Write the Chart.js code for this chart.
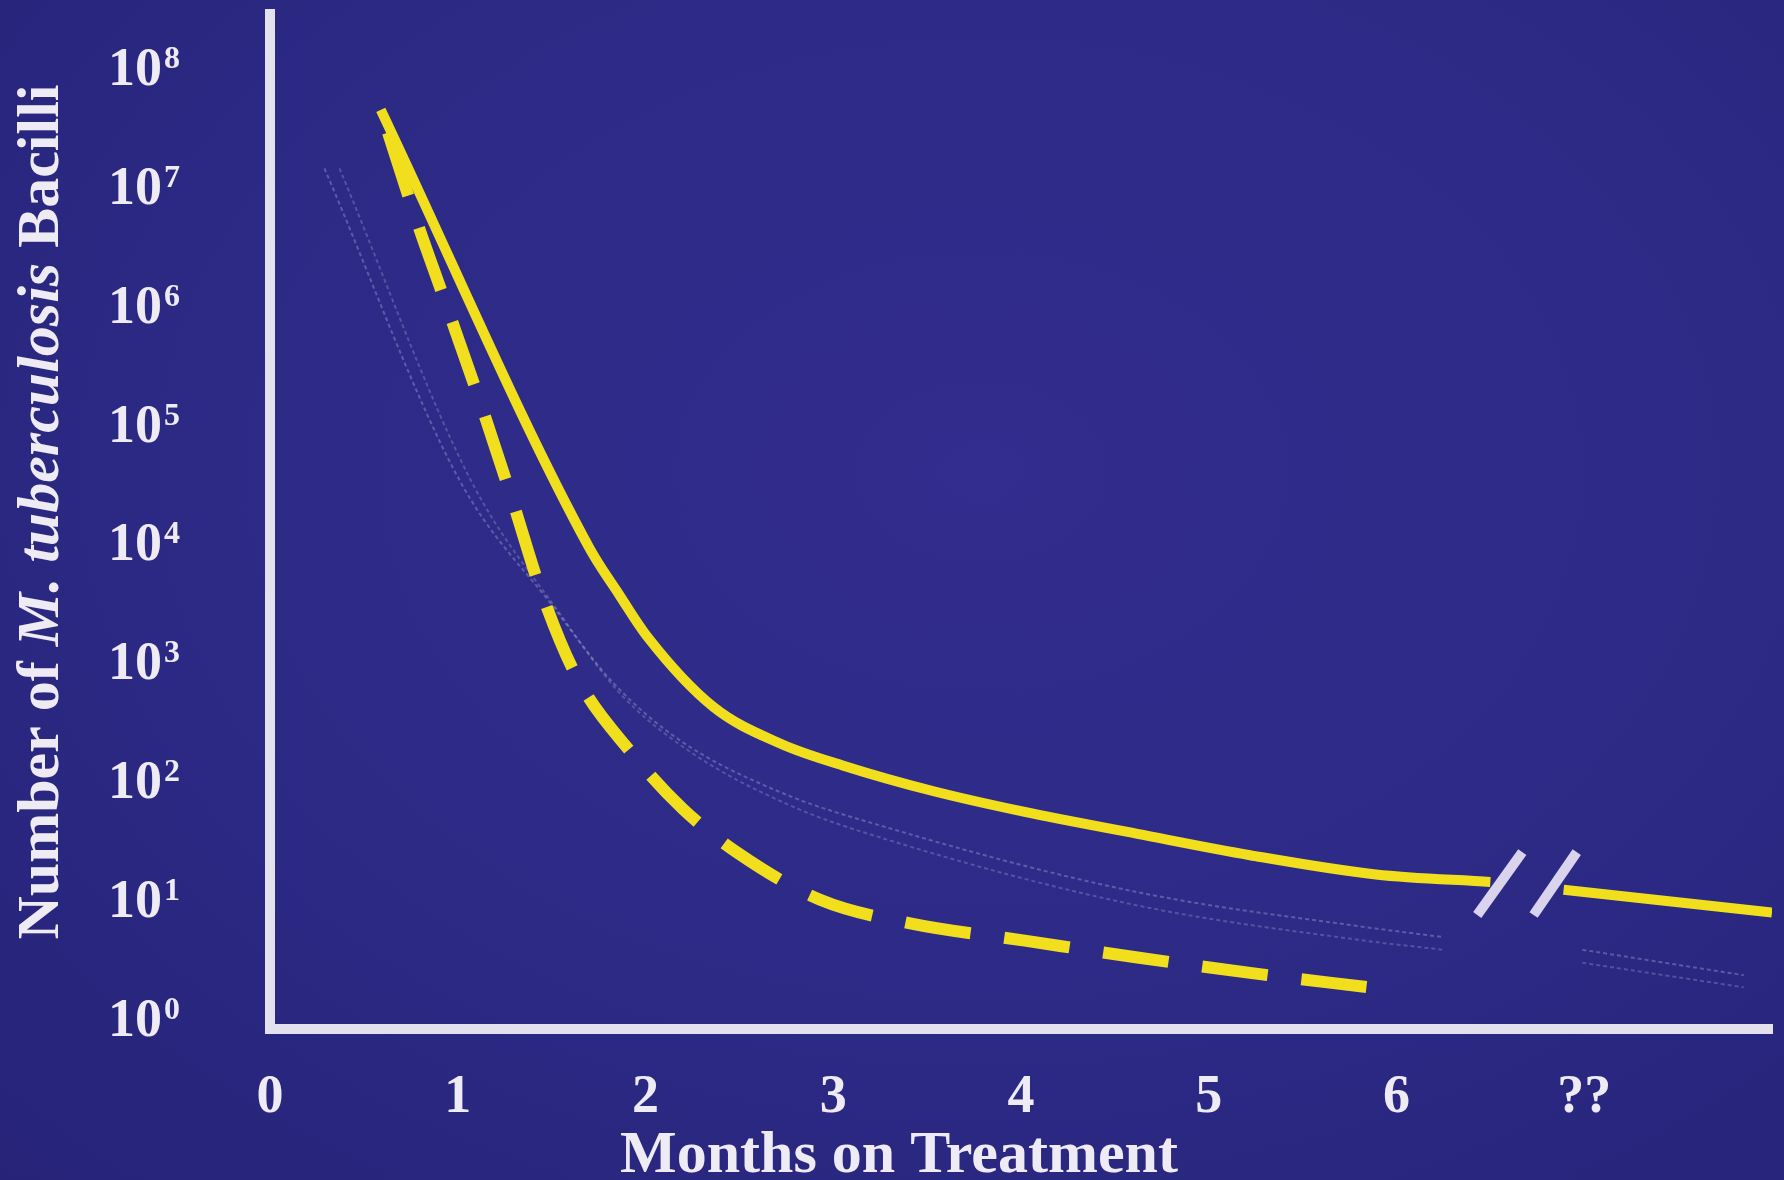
<!DOCTYPE html>
<html>
<head>
<meta charset="utf-8">
<title>M. tuberculosis bacilli on treatment</title>
<script src="https://cdn.jsdelivr.net/npm/chart.js@4.4.1/dist/chart.umd.min.js"></script>
<style>
  html, body { margin: 0; padding: 0; }
  body {
    width: 1784px; height: 1180px; overflow: hidden;
    background: radial-gradient(ellipse at 55% 40%, #322d8e 0%, #2d2a86 55%, #262379 100%);
  }
  #wrap { position: relative; width: 1784px; height: 1180px; }
</style>
</head>
<body>
<div id="wrap"><canvas id="grafico"></canvas></div>
<script>
// 1. DADOS
const monthTicks = [0, 1, 2, 3, 4, 5, 6, 7];
const monthTickLabels = ['0', '1', '2', '3', '4', '5', '6', '??'];
const bacilliTicks = [1, 10, 100, 1e3, 1e4, 1e5, 1e6, 1e7, 1e8];
const bacilliTickBase = '10';
const bacilliTickExponents = ['0', '1', '2', '3', '4', '5', '6', '7', '8'];

// curva contínua (com quebra no eixo entre 6 e ??)
const solidMonths  = [0.59, 1.70, 1.86, 2.01, 2.36, 2.72, 3.05, 3.53, 4.02, 4.62, 5.22, 5.89, 6.50, 6.70, 6.89, 8.00];
const solidBacilli = [4.2e7, 8.7e3, 3.5e3, 1.55e3, 400, 195, 128, 78, 52, 34, 22.5, 15.5, 13.4, null, 11.5, 7.4];

// curva tracejada
const dashedMonths  = [0.59, 0.77, 0.94, 1.12, 1.29, 1.45, 1.64, 1.93, 2.20, 2.50, 2.93, 3.41, 4.02, 4.62, 5.22, 5.84];
const dashedBacilli = [4.2e7, 5.5e6, 9.5e5, 1.45e5, 2.2e4, 3.5e3, 680, 160, 55, 23, 9.5, 6.0, 4.3, 3.1, 2.3, 1.75];

// linhas fantasma (quase apagadas no slide)
const ghostAMonths  = [0.29, 1.01, 1.51, 1.83, 2.18, 2.72, 3.25, 4.62, 5.83, 6.25, 6.60, 6.99, 7.85];
const ghostABacilli = [1.35e7, 3.2e4, 2.75e3, 630, 210, 76, 40, 11, 5.6, 4.6, null, 3.6, 2.2];
const ghostBMonths  = [0.37, 1.07, 1.55, 1.86, 2.24, 2.77, 3.30, 4.62, 5.83, 6.25, 6.60, 6.99, 7.85];
const ghostBBacilli = [1.35e7, 3.2e4, 2.35e3, 525, 166, 59, 30, 8.5, 4.3, 3.6, null, 2.8, 1.74];

// marcas de quebra "//"
const breakOneMonths = [6.43, 6.67];
const breakTwoMonths = [6.73, 6.96];
const breakBacilli   = [7.06, 23.9];

const xTitle = 'Months on Treatment';
const yTitleParts = [
  { text: 'Number of ', italic: false },
  { text: 'M. tuberculosis', italic: true },
  { text: ' Bacilli', italic: false }
];

// 2. ESTILO
const fonte = "'Liberation Serif', 'Times New Roman', serif";
const corTexto = '#efebf4';
const corEixo = '#e4e1ee';
const amarelo = '#f1df1d';

function pontos(xs, ys) {
  return xs.map((x, i) => ({ x: x, y: ys[i] }));
}

// títulos dos eixos (o do eixo Y tem parte em itálico) e expoentes dos ticks
const titulosEixos = {
  id: 'titulosEixos',
  afterDraw(chart) {
    const ctx = chart.ctx;
    const area = chart.chartArea;
    const escalaY = chart.scales.y;
    ctx.save();
    ctx.fillStyle = corTexto;
    ctx.textBaseline = 'alphabetic';

    // expoentes (sobrescritos) ao lado de "10"
    ctx.font = 'bold 32px ' + fonte;
    ctx.textAlign = 'left';
    bacilliTicks.forEach((v, i) => {
      const py = escalaY.getPixelForValue(v);
      ctx.fillText(bacilliTickExponents[i], area.left - 106, py + 3);
    });

    ctx.font = 'bold 60px ' + fonte;
    ctx.textAlign = 'center';
    ctx.fillText(xTitle, area.left + 629, area.bottom + 143);

    ctx.translate(58, 512);
    ctx.rotate(-Math.PI / 2);
    ctx.textAlign = 'left';
    let total = 0;
    yTitleParts.forEach(p => {
      ctx.font = (p.italic ? 'italic ' : '') + 'bold 60px ' + fonte;
      p.w = ctx.measureText(p.text).width;
      total += p.w;
    });
    let x = -total / 2;
    yTitleParts.forEach(p => {
      ctx.font = (p.italic ? 'italic ' : '') + 'bold 60px ' + fonte;
      ctx.fillText(p.text, x, 0);
      x += p.w;
    });
    ctx.restore();
  }
};

// 3. GRÁFICO
const ctxGrafico = document.getElementById('grafico').getContext('2d');
const grafico = new Chart(ctxGrafico, {
  type: 'line',
  data: {
    datasets: [
      {
        data: pontos(ghostAMonths, ghostABacilli),
        borderColor: 'rgba(205,205,240,0.30)', borderWidth: 2, borderDash: [4, 3],
        pointRadius: 0, spanGaps: false, cubicInterpolationMode: 'monotone', order: 5
      },
      {
        data: pontos(ghostBMonths, ghostBBacilli),
        borderColor: 'rgba(205,205,240,0.25)', borderWidth: 2, borderDash: [4, 3],
        pointRadius: 0, spanGaps: false, cubicInterpolationMode: 'monotone', order: 5
      },
      {
        data: pontos(dashedMonths, dashedBacilli),
        borderColor: amarelo, borderWidth: 12, borderDash: [66, 34], borderDashOffset: -24,
        borderCapStyle: 'butt',
        pointRadius: 0, cubicInterpolationMode: 'monotone', order: 3
      },
      {
        data: pontos(solidMonths, solidBacilli),
        borderColor: amarelo, borderWidth: 10, borderCapStyle: 'butt',
        pointRadius: 0, spanGaps: false, cubicInterpolationMode: 'monotone', order: 2
      },
      {
        data: pontos(breakOneMonths, breakBacilli),
        borderColor: '#d9d3ee', borderWidth: 10, borderCapStyle: 'butt',
        pointRadius: 0, order: 1
      },
      {
        data: pontos(breakTwoMonths, breakBacilli),
        borderColor: '#d9d3ee', borderWidth: 10, borderCapStyle: 'butt',
        pointRadius: 0, order: 1
      }
    ]
  },
  options: {
    responsive: true,
    maintainAspectRatio: false,
    animation: false,
    layout: { padding: { top: 14, right: 12, left: 0, bottom: 0 } },
    plugins: { legend: { display: false }, tooltip: { enabled: false } },
    scales: {
      x: {
        type: 'linear', min: 0, max: 8,
        grid: { display: false, drawTicks: false },
        border: { display: true, color: corEixo, width: 10 },
        afterBuildTicks: s => { s.ticks = monthTicks.map(v => ({ value: v })); },
        afterFit: s => { s.height = 151; s.paddingRight = 0; },
        ticks: {
          color: corTexto, padding: 37, maxRotation: 0, autoSkip: false,
          font: { family: fonte, size: 54, weight: 'bold' },
          callback: v => monthTickLabels[monthTicks.indexOf(v)]
        }
      },
      y: {
        type: 'logarithmic', min: 0.776, max: 2.69e8,
        grid: { display: false, drawTicks: false },
        border: { display: true, color: corEixo, width: 10 },
        afterBuildTicks: s => { s.ticks = bacilliTicks.map(v => ({ value: v })); },
        afterFit: s => { s.width = 270; s.paddingTop = 0; s.paddingBottom = 0; },
        ticks: {
          color: corTexto, padding: 108, autoSkip: false, labelOffset: 6,
          font: { family: fonte, size: 54, weight: 'bold' },
          callback: () => bacilliTickBase
        }
      }
    }
  },
  plugins: [titulosEixos]
});
</script>
</body>
</html>
